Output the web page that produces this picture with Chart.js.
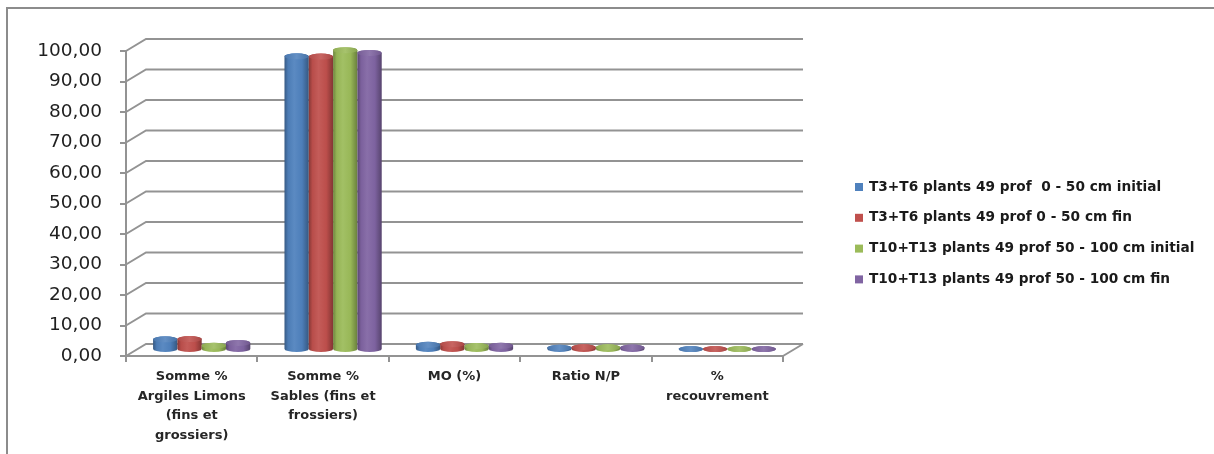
<!DOCTYPE html>
<html>
<head>
<meta charset="utf-8">
<script src="https://cdn.jsdelivr.net/npm/chart.js@4.4.1/dist/chart.umd.min.js"></script>
<style>
  html, body { margin: 0; padding: 0; background: #ffffff; }
  canvas { display: block; }
</style>
</head>
<body>
<canvas id="c" width="1214" height="454"></canvas>
<script>
// Categories (multi-line labels under the floor)
const categories = [
  ["Somme %", "Argiles Limons", "(fins et", "grossiers)"],
  ["Somme %", "Sables (fins et", "frossiers)"],
  "MO (%)",
  "Ratio N/P",
  ["%", "recouvrement"]
];

// Series names
const seriesNames = [
  "T3+T6 plants 49 prof  0 - 50 cm initial",
  "T3+T6 plants 49 prof 0 - 50 cm fin",
  "T10+T13 plants 49 prof 50 - 100 cm initial",
  "T10+T13 plants 49 prof 50 - 100 cm fin"
];

// Series values, one per category
const t3t6Initial   = [3.5, 96.3, 1.7, 0.7, 0.3];
const t3t6Fin       = [3.6, 96.2, 1.9, 0.9, 0.3];
const t10t13Initial = [1.4, 98.3, 1.3, 0.9, 0.3];
const t10t13Fin     = [2.3, 97.4, 1.4, 0.8, 0.3];

// Value axis ticks
const yTicks = [0, 10, 20, 30, 40, 50, 60, 70, 80, 90, 100];

const seriesColors = ["#4F81BD", "#C0504D", "#9BBB59", "#8064A2"];

// depth offset of the back wall relative to the front plane
const DEPTH_X = 20, DEPTH_Y = -12;
const GRID = "#939393";

function shade(hex, f) {
  const n = parseInt(hex.slice(1), 16);
  let r = (n >> 16) & 255, g = (n >> 8) & 255, b = n & 255;
  if (f >= 0) { r += (255 - r) * f; g += (255 - g) * f; b += (255 - b) * f; }
  else { r *= 1 + f; g *= 1 + f; b *= 1 + f; }
  return `rgb(${Math.round(r)},${Math.round(g)},${Math.round(b)})`;
}

// back wall, side wall and floor lines
const wallPlugin = {
  id: "wall3d",
  beforeDatasetsDraw(chart) {
    const { ctx, chartArea: a, scales: { y } } = chart;
    ctx.save();
    ctx.strokeStyle = GRID;
    ctx.lineWidth = 2;
    yTicks.forEach(v => {
      const py = y.getPixelForValue(v);
      ctx.beginPath();
      ctx.moveTo(a.left, py);
      ctx.lineTo(a.left + DEPTH_X, py + DEPTH_Y);
      ctx.lineTo(a.right + DEPTH_X, py + DEPTH_Y);
      ctx.stroke();
    });
    const p0 = y.getPixelForValue(0);
    ctx.beginPath();
    ctx.moveTo(a.right, p0);
    ctx.lineTo(a.right + DEPTH_X, p0 + DEPTH_Y);
    ctx.stroke();
    ctx.restore();
  }
};

// cylinders drawn at mid depth from the bar elements
const cylinderPlugin = {
  id: "cylinders",
  afterDatasetsDraw(chart) {
    const ctx = chart.ctx;
    const ox = DEPTH_X / 2, oy = DEPTH_Y / 2;
    const n = chart.data.labels.length;
    for (let i = 0; i < n; i++) {
      chart.data.datasets.forEach((ds, di) => {
        const el = chart.getDatasetMeta(di).data[i];
        const col = seriesColors[di];
        const cx = el.x + ox;
        const rx = el.width / 2;
        const top = el.y + oy;
        const bottom = el.base + oy;
        const ry = 3;
        ctx.save();
        const g = ctx.createLinearGradient(cx - rx, 0, cx + rx, 0);
        g.addColorStop(0, shade(col, -0.3));
        g.addColorStop(0.15, shade(col, -0.04));
        g.addColorStop(0.4, shade(col, 0.07));
        g.addColorStop(0.72, shade(col, -0.02));
        g.addColorStop(1, shade(col, -0.32));
        ctx.beginPath();
        ctx.moveTo(cx - rx, top);
        ctx.lineTo(cx - rx, bottom);
        ctx.ellipse(cx, bottom, rx, ry, 0, Math.PI, 0, true);
        ctx.lineTo(cx + rx, top);
        ctx.ellipse(cx, top, rx, ry, 0, 0, Math.PI, true);
        ctx.closePath();
        ctx.fillStyle = g;
        ctx.fill();
        const gt = ctx.createLinearGradient(cx - rx, 0, cx + rx, 0);
        gt.addColorStop(0, shade(col, -0.08));
        gt.addColorStop(0.5, shade(col, 0.12));
        gt.addColorStop(1, shade(col, -0.12));
        ctx.beginPath();
        ctx.ellipse(cx, top, rx, ry, 0, 0, Math.PI * 2);
        ctx.fillStyle = gt;
        ctx.fill();
        ctx.restore();
      });
    }
  }
};

// frame and legend on the right
const framePlugin = {
  id: "frameLegend",
  afterDraw(chart) {
    const ctx = chart.ctx;
    ctx.save();
    ctx.strokeStyle = "#8c8c8c";
    ctx.lineWidth = 2;
    ctx.beginPath();
    ctx.moveTo(1230, 8);
    ctx.lineTo(7, 8);
    ctx.lineTo(7, 470);
    ctx.stroke();

    ctx.font = "bold 13.7px 'DejaVu Sans'";
    ctx.textBaseline = "middle";
    ctx.textAlign = "left";
    chart.data.datasets.forEach((ds, i) => {
      const yy = 187 + i * 30.8;
      ctx.fillStyle = seriesColors[i];
      ctx.fillRect(855, yy - 4, 8, 8);
      ctx.fillStyle = "#1a1a1a";
      ctx.fillText(ds.label, 869, yy);
    });
    ctx.restore();
  }
};

const seriesValues = [t3t6Initial, t3t6Fin, t10t13Initial, t10t13Fin];

new Chart(document.getElementById("c"), {
  type: "bar",
  data: {
    labels: categories,
    datasets: seriesNames.map((name, i) => ({
      label: name,
      data: seriesValues[i],
      backgroundColor: "rgba(0,0,0,0)",
      borderWidth: 0,
      barPercentage: 1,
      categoryPercentage: 0.74
    }))
  },
  options: {
    responsive: false,
    animation: false,
    devicePixelRatio: 1,
    layout: { padding: { left: 8, right: 431, top: 51, bottom: 0 } },
    plugins: {
      legend: { display: false },
      tooltip: { enabled: false }
    },
    scales: {
      x: {
        grid: { drawOnChartArea: false, tickLength: 6, color: GRID, lineWidth: 2 },
        border: { display: true, color: GRID, width: 2 },
        ticks: {
          autoSkip: false, maxRotation: 0, minRotation: 0, padding: 5,
          color: "#262626",
          font: { family: "DejaVu Sans", size: 13, weight: "bold", lineHeight: 1.5 }
        },
        afterFit(s) { s.height = 98; }
      },
      y: {
        min: 0, max: 100,
        afterBuildTicks(s) { s.ticks = yTicks.map(v => ({ value: v })); },
        grid: { drawOnChartArea: false, tickLength: 6, color: GRID, lineWidth: 2 },
        border: { display: true, color: GRID, width: 2 },
        ticks: {
          padding: 18,
          color: "#1f1f1f",
          font: { family: "DejaVu Sans", size: 18.5 },
          callback: v => v.toFixed(2).replace(".", ",")
        },
        afterFit(s) { s.width = 118; }
      }
    }
  },
  plugins: [wallPlugin, cylinderPlugin, framePlugin]
});
</script>
</body>
</html>
